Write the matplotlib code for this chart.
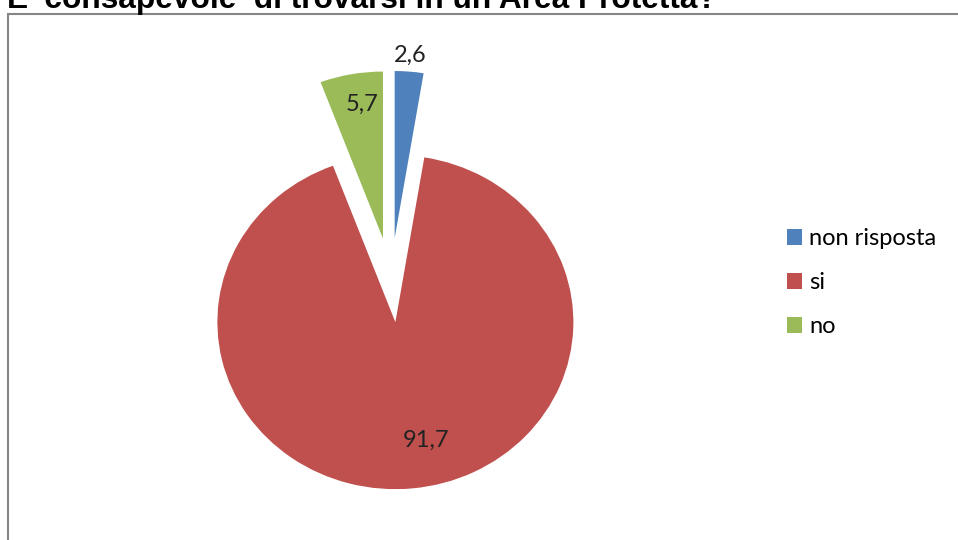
import numpy as np
from matplotlib import pyplot as plt
from matplotlib.patches import Patch, Rectangle

# Dati
categorie = ['non risposta', 'si', 'no']
valori = [2.6, 91.7, 5.7]
etichette = ['2,6', '91,7', '5,7']
colori = ['#4F81BD', '#C0504D', '#9BBB59']
titolo = "E' consapevole  di trovarsi in un Area Protetta?"

## Figura
fig = plt.figure(figsize=(9.58, 5.4), dpi=100)
ax = fig.add_axes([0, 0, 1, 1])

# pie leggermente schiacciata in verticale (come Excel)
sy = 178 / 167
wedges, _ = ax.pie(valori, colors=colori, startangle=90, counterclock=False,
                   radius=178, center=(391, 277), explode=[45, 45, 45],
                   wedgeprops=dict(linewidth=0))
ax.set_aspect('auto')
ax.set_xlim(0, 958)
ax.set_ylim(0, 540 * sy)
ax.axis('off')

# Etichette dati (distanza e piccolo scarto d'angolo, tipo "best fit")
dist = [1.10, 0.726, 0.81]
dang = [0, 8, -2]
for w, lab, d, da in zip(wedges, etichette, dist, dang):
    tm = np.deg2rad(0.5 * (w.theta1 + w.theta2) + da)
    cx, cy = w.center
    ax.text(cx + d * w.r * np.cos(tm), cy + d * w.r * np.sin(tm), lab,
            ha='center', va='center', fontsize=17, family='Lato', color='#222222')

# Legenda
handles = [Patch(facecolor=c, edgecolor='none') for c in colori]
fig.legend(handles, categorie, loc='upper left', bbox_to_anchor=(787 / 958, 1 - 228 / 540),
           frameon=False, prop=dict(family='Lato', size=17), handlelength=0.64,
           handleheight=0.64, handletextpad=0.3, labelspacing=0.98, borderpad=0,
           borderaxespad=0)

# Cornice
fig.add_artist(Rectangle((8 / 958, -0.1), 1.2, 1.1 - 14 / 540, transform=fig.transFigure,
                         fill=False, edgecolor='#868686', linewidth=1.5))

# Titolo (tagliato in alto)
fig.text(7 / 958, 1 - 8 / 540, titolo, ha='left', va='baseline', fontsize=22.8,
         fontweight='bold', family='Liberation Sans')

fig.savefig('out.png', dpi=100)
